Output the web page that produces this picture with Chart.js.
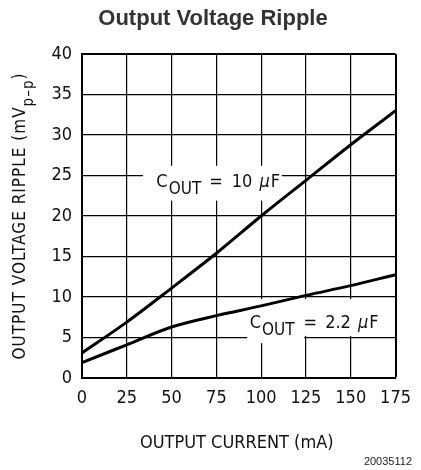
<!DOCTYPE html>
<html>
<head>
<meta charset="utf-8">
<script src="https://cdn.jsdelivr.net/npm/chart.js@4.4.1/dist/chart.umd.min.js"></script>
<style>
  html, body { margin: 0; padding: 0; background: #fff; }
  #wrap { width: 421px; height: 470px; position: relative; }
</style>
</head>
<body>
<div id="wrap"><canvas id="chartRipple"></canvas></div>
<script>
// values
const currentMA = [0, 25, 50, 75, 100, 125, 150, 175];
const ripple10uF = [3.1, 6.9, 11.1, 15.4, 20.0, 24.4, 28.8, 33.0];
const ripple2u2F = [1.9, 4.1, 6.3, 7.7, 8.9, 10.2, 11.4, 12.75];

const titleText = 'Output Voltage Ripple';
const xTitle = 'OUTPUT CURRENT (mA)';
const figureId = '20035112';

const FONT = "'Liberation Sans Narrow', 'DejaVu Sans Condensed', 'DejaVu Sans', sans-serif";
const INK = '#111';

function toPoints(xs, ys) {
    return xs.map((x, i) => ({ x: x, y: ys[i] }));
}

// draw pieces of text one after another (for subscripts), gap = extra px before the piece
function drawRuns(ctx, x, y, runs) {
    for (let r of runs) {
        x += r.gap || 0;
        ctx.font = r.font;
        ctx.fillText(r.text, x, y + (r.dy || 0));
        x += ctx.measureText(r.text).width;
    }
}
function runsWidth(ctx, runs) {
    let w = 0;
    for (let r of runs) {
        ctx.font = r.font;
        w += ctx.measureText(r.text).width + (r.gap || 0);
    }
    return w;
}

const base = '18px ' + FONT;
const sub = '17px ' + FONT;
const mu = 'italic 18px ' + FONT;

// label boxes, in data units [x0, x1, y0, y1]
const label10 = {
    boxes: [[34, 111.5, 21.9, 26.2]],
    at: [41.5, 24.2],
    runs: [
        { text: 'C', font: base },
        { text: 'OUT', font: sub, dy: 7.5, gap: 1 },
        { text: '=', font: base, gap: 8 },
        { text: '10', font: base, gap: 9 },
        { text: 'μ', font: mu, gap: 7 },
        { text: 'F', font: base, gap: 1 },
    ]
};
const label2u2 = {
    boxes: [[92.2, 173.8, 5.2, 9.75], [92.2, 124, 4.3, 9.75]],
    at: [93.6, 6.75],
    runs: [
        { text: 'C', font: base },
        { text: 'OUT', font: sub, dy: 7, gap: 1 },
        { text: '=', font: base, gap: 9 },
        { text: '2.2', font: base, gap: 8 },
        { text: 'μ', font: mu, gap: 7 },
        { text: 'F', font: base, gap: 1 },
    ]
};

const textPlugin = {
    id: 'textPlugin',
    beforeDatasetsDraw(chart) {
        const ctx = chart.ctx;
        const xs = chart.scales.x, ys = chart.scales.y;
        ctx.save();
        ctx.fillStyle = '#fff';
        for (let lab of [label10, label2u2]) {
            for (let b of lab.boxes) {
                const x0 = xs.getPixelForValue(b[0]), x1 = xs.getPixelForValue(b[1]);
                const y0 = ys.getPixelForValue(b[3]), y1 = ys.getPixelForValue(b[2]);
                ctx.fillRect(x0, y0, x1 - x0, y1 - y0);
            }
        }
        ctx.restore();
    },
    afterDatasetsDraw(chart) {
        const ctx = chart.ctx;
        const xs = chart.scales.x, ys = chart.scales.y;
        const area = chart.chartArea;
        ctx.save();
        ctx.fillStyle = INK;
        ctx.textBaseline = 'middle';
        ctx.textAlign = 'left';
        for (let lab of [label10, label2u2]) {
            drawRuns(ctx, xs.getPixelForValue(lab.at[0]), ys.getPixelForValue(lab.at[1]), lab.runs);
        }

        // chart title
        ctx.fillStyle = '#333';
        ctx.textAlign = 'center';
        ctx.font = 'bold 22px "Liberation Sans", Arial, sans-serif';
        ctx.fillText(titleText, 213, 19);

        // x axis title
        ctx.fillStyle = INK;
        ctx.font = '18px ' + FONT;
        ctx.fillText(xTitle, (area.left + area.right) / 2 - 2, 443);

        // figure number
        ctx.textAlign = 'right';
        ctx.font = '11px "Liberation Sans", Arial, sans-serif';
        ctx.fillStyle = '#222';
        ctx.fillText(figureId, 412, 462);

        // y axis title, rotated, with subscript
        const yRuns = [
            { text: 'OUTPUT VOLTAGE RIPPLE (mV', font: '17px ' + FONT },
            { text: 'p–p', font: '15px ' + FONT, dy: 8 },
            { text: ')', font: '17px ' + FONT },
        ];
        ctx.fillStyle = INK;
        ctx.textAlign = 'left';
        ctx.textBaseline = 'alphabetic';
        ctx.letterSpacing = '1px';
        ctx.translate(25, (area.top + area.bottom) / 2);
        ctx.rotate(-Math.PI / 2);
        drawRuns(ctx, -runsWidth(ctx, yRuns) / 2, 0, yRuns);
        ctx.letterSpacing = '0px';
        ctx.restore();
    }
};

const ctxRipple = document.getElementById('chartRipple');
const chartRipple = new Chart(ctxRipple, {
    type: 'line',
    data: {
        datasets: [
            {
                label: 'COUT = 10 uF',
                data: toPoints(currentMA, ripple10uF),
                borderColor: '#000',
                borderWidth: 3,
                pointRadius: 0,
                cubicInterpolationMode: 'monotone',
            },
            {
                label: 'COUT = 2.2 uF',
                data: toPoints(currentMA, ripple2u2F),
                borderColor: '#000',
                borderWidth: 3,
                pointRadius: 0,
                cubicInterpolationMode: 'monotone',
            },
        ]
    },
    options: {
        responsive: true,
        maintainAspectRatio: false,
        animation: false,
        layout: {
            padding: { left: 0, right: 16, top: 54, bottom: 0 }
        },
        plugins: {
            legend: { display: false },
            title: { display: false },
            tooltip: { enabled: false },
        },
        scales: {
            x: {
                type: 'linear',
                min: 0,
                max: 175,
                afterFit(scale) { scale.height = 92; },
                ticks: {
                    stepSize: 25,
                    padding: 10,
                    color: INK,
                    font: { family: FONT, size: 18 },
                },
                grid: {
                    color: '#000',
                    lineWidth: (c) => (c.tick && c.tick.value === 175) ? 2 : 1.2,
                    drawTicks: false,
                },
                border: { color: '#000', width: 2 },
            },
            y: {
                min: 0,
                max: 40,
                afterFit(scale) { scale.width = 82; },
                ticks: {
                    stepSize: 5,
                    padding: 10,
                    color: INK,
                    font: { family: FONT, size: 18 },
                },
                grid: {
                    color: '#000',
                    lineWidth: (c) => (c.tick && c.tick.value === 40) ? 2 : 1.2,
                    drawTicks: false,
                },
                border: { color: '#000', width: 2 },
            },
        },
    },
    plugins: [textPlugin],
});
</script>
</body>
</html>
